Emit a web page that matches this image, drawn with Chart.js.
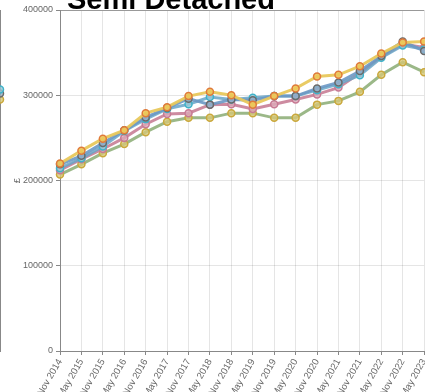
<!DOCTYPE html>
<html>
<head>
<meta charset="utf-8">
<script src="https://cdn.jsdelivr.net/npm/chart.js@4/dist/chart.umd.min.js"></script>
<style>
  html, body { margin: 0; padding: 0; background: #fff; overflow: hidden; width: 425px; height: 392px; }
  #wrap { position: relative; width: 425px; height: 392px; overflow: hidden; }
  #prev { position: absolute; left: -95px; top: 0; }
  #main { position: absolute; left: 0; top: 0; }
  #title {
    position: absolute; left: 0; top: -15px; width: 342px;
    text-align: center; white-space: nowrap;
    font: bold 29px "Liberation Sans", Arial, sans-serif; line-height: 29px; color: #000;
  }
</style>
</head>
<body>
<div id="wrap">
  <canvas id="prev" width="100" height="410"></canvas>
  <canvas id="main" width="436" height="410"></canvas>
  <div id="title">Semi Detached</div>
</div>
<script>
// Half-yearly periods on the x axis
const months = [
  'Nov 2014', 'May 2015', 'Nov 2015', 'May 2016', 'Nov 2016', 'May 2017',
  'Nov 2017', 'May 2018', 'Nov 2018', 'May 2019', 'Nov 2019', 'May 2020',
  'Nov 2020', 'May 2021', 'Nov 2021', 'May 2022', 'Nov 2022', 'May 2023'
];

// Average semi-detached prices (£)
const yellowSeries = [220000, 235000, 249000, 259000, 279000, 286000, 299000, 304000, 300000,
                      289000, 299000, 308000, 322000, 324000, 334000, 349000, 362000, 363000];
const blueSeries   = [219000, 229000, 244000, 259000, 274000, 285000, 296000, 289000, 295000,
                      294000, 299000, 299000, 308000, 315000, 328500, 346000, 363000, 352000];
const tealSeries   = [214500, 226000, 240000, 258000, 272000, 284000, 289500, 298000, 295000,
                      297000, 299000, 299000, 306000, 313000, 323500, 344000, 358500, 354000];
const pinkSeries   = [212000, 225000, 237000, 250000, 266000, 278000, 279000, 289000, 289500,
                      284000, 289500, 295000, 301000, 309000, 326000, 345000, 360000, 356000];
const greenSeries  = [207000, 219000, 232000, 242700, 256700, 269000, 273500, 273500, 279000,
                      279000, 273500, 273500, 289000, 293400, 304000, 324000, 338800, 327000];

// Closing values of the neighbouring panel (only its last period is in view)
const prevTealLast  = 306700;
const prevGreyLast  = 302000;
const prevOliveLast = 295000;

const yTicks = [0, 100000, 200000, 300000, 400000];

const FONT = "'Liberation Sans', Arial, sans-serif";

function lineSet(label, data, line, pointBorder, pointFill) {
  return {
    label, data,
    borderColor: line,
    borderWidth: 3,
    pointRadius: 3.5,
    pointHoverRadius: 3.5,
    pointBorderWidth: 1.5,
    pointBorderColor: pointBorder,
    pointBackgroundColor: pointFill,
    tension: 0,
    clip: 6
  };
}

const commonY = {
  min: 0, max: 400000,
  afterBuildTicks: (axis) => { axis.ticks = yTicks.map(v => ({ value: v })); }
};

new Chart(document.getElementById('main'), {
  type: 'line',
  data: {
    labels: months,
    datasets: [
      lineSet('Yellow', yellowSeries, 'rgba(232,200,92,0.95)', '#e07a3a', 'rgba(236,200,90,0.9)'),
      lineSet('Blue',   blueSeries,   'rgba(108,152,196,0.9)', '#6a6a6a', 'rgba(150,175,200,0.8)'),
      lineSet('Teal',   tealSeries,   'rgba(104,166,200,0.85)', '#3fb2c9', 'rgba(150,200,215,0.8)'),
      lineSet('Pink',   pinkSeries,   'rgba(200,126,150,0.9)', '#c77a94', 'rgba(220,170,185,0.8)'),
      lineSet('Green',  greenSeries,  'rgba(150,180,130,0.95)', '#caa83c', 'rgba(215,200,120,0.8)')
    ]
  },
  options: {
    responsive: false,
    animation: false,
    events: [],
    layout: { padding: { top: 10, right: 0, bottom: 0, left: 0 } },
    plugins: { legend: { display: false }, title: { display: false }, tooltip: { enabled: false } },
    scales: {
      x: {
        grid: { color: 'rgba(0,0,0,0.1)', tickLength: 4, tickColor: '#888' },
        border: { color: '#888', width: 1 },
        ticks: {
          autoSkip: false, maxRotation: 60, minRotation: 60,
          color: '#666', padding: 2,
          font: { family: FONT, size: 9.5 }
        },
        afterFit: (axis) => { axis.height = 59; }
      },
      y: Object.assign({}, commonY, {
        grid: {
          color: (c) => (c.tick && c.tick.value === 400000 ? '#999' : 'rgba(0,0,0,0.1)'),
          tickLength: 4, tickColor: '#888'
        },
        border: { color: '#888', width: 1 },
        ticks: {
          color: '#666', padding: 3, font: { family: FONT, size: 9 },
          callback: (v) => String(v)
        },
        title: { display: true, text: '£', color: '#666', padding: { top: 12, bottom: 0 }, font: { family: FONT, size: 9.5 } },
        afterFit: (axis) => { axis.width = 60; }
      })
    }
  }
});

// Right edge of the neighbouring panel
function lastOnly(v) { return months.map((_, i) => (i === months.length - 1 ? v : null)); }

new Chart(document.getElementById('prev'), {
  type: 'line',
  data: {
    labels: months,
    datasets: [
      lineSet('Teal',  lastOnly(prevTealLast),  'rgba(104,166,200,0.85)', '#3fb2c9', 'rgba(150,200,215,0.8)'),
      lineSet('Grey',  lastOnly(prevGreyLast),  'rgba(108,152,196,0.9)', '#6a6a6a', 'rgba(150,175,200,0.8)'),
      lineSet('Olive', lastOnly(prevOliveLast), 'rgba(150,180,130,0.95)', '#caa83c', 'rgba(215,200,120,0.8)')
    ]
  },
  options: {
    responsive: false,
    animation: false,
    events: [],
    layout: { padding: { top: 10, right: 0, bottom: 0, left: 0 } },
    plugins: { legend: { display: false }, title: { display: false }, tooltip: { enabled: false } },
    scales: {
      x: {
        grid: { display: false },
        border: { display: false },
        ticks: { display: false },
        afterFit: (axis) => { axis.height = 59; }
      },
      y: Object.assign({}, commonY, {
        position: 'right',
        grid: { display: false },
        border: { color: '#888', width: 1 },
        ticks: { display: false },
        afterFit: (axis) => { axis.width = 5; }
      })
    }
  }
});
</script>
</body>
</html>
